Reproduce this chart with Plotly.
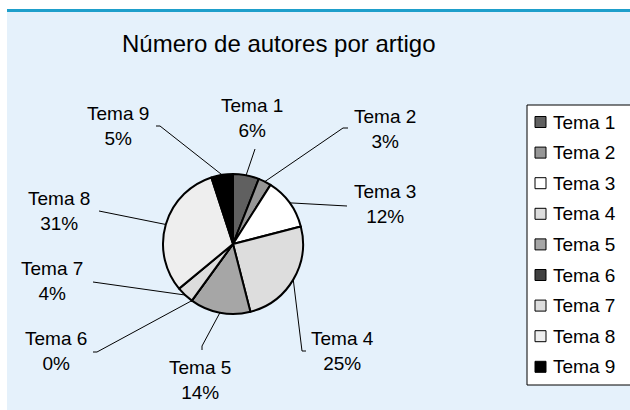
import math
import plotly.graph_objects as go

W, H = 630, 410

# ---- data ----
categories = ["Tema 1", "Tema 2", "Tema 3", "Tema 4", "Tema 5", "Tema 6", "Tema 7", "Tema 8", "Tema 9"]
values = [6, 3, 12, 25, 14, 0, 4, 31, 5]
colors = ["#606060", "#969696", "#FFFFFF", "#DDDDDD", "#A6A6A6", "#404040", "#DDDDDD", "#EEEEEE", "#000000"]
title_text = "Número de autores por artigo"

# ---- layout (pixel positions in the page) ----
cx, cy, r = 233, 244, 70
label_pos = [(252, 118), (385, 129), (385, 204), (343, 351), (200, 380),
             (56, 351), (52, 281), (59, 211), (118, 126)]
leader = [((255, 149), (255, 149)), ((343, 128), (348, 128)), ((347, 206), (347, 206)),
          ((302, 351), (306, 351)), ((202, 346), (202, 350)), ((97, 352), (93, 352)),
          ((93, 282), (93, 282)), ((99, 211), (99, 211)), ((160, 126), (156, 126))]


def px(x):
    return x / W


def py(y):
    return 1 - y / H


FONT = "Liberation Sans, Arial, sans-serif"

fig = go.Figure()
fig.add_trace(go.Pie(
    labels=categories, values=values, sort=False, direction="clockwise", rotation=0,
    marker=dict(colors=colors, line=dict(color="black", width=2)),
    textinfo="none", hoverinfo="label+percent", showlegend=False,
    domain=dict(x=[px(cx - r), px(cx + r)], y=[py(cy + r), py(cy - r)]),
))

shapes = []
shapes.append(dict(type="rect", xref="paper", yref="paper", x0=px(7), x1=1.01, y0=-0.01, y1=py(9),
                   fillcolor="#E5F1FB", line=dict(width=0), layer="below"))
shapes.append(dict(type="rect", xref="paper", yref="paper", x0=px(7), x1=1.01, y0=py(12), y1=py(9),
                   fillcolor="#1E9FCB", line=dict(width=0), layer="below"))

annotations = [dict(text=title_text, x=px(279), y=py(44), xref="paper", yref="paper",
                    xanchor="center", yanchor="middle", showarrow=False,
                    font=dict(family=FONT, size=24, color="black"))]

total = sum(values)
cum = 0
for i, (cat, v) in enumerate(zip(categories, values)):
    mid = (cum + v / 2) / total
    cum += v
    th = 2 * math.pi * mid
    ex, ey = cx + r * math.sin(th), cy - r * math.cos(th)
    (bx, by), (tx, ty) = leader[i]
    path = f"M{px(ex)},{py(ey)} L{px(bx)},{py(by)} L{px(tx)},{py(ty)}"
    shapes.append(dict(type="path", xref="paper", yref="paper", path=path,
                       line=dict(color="black", width=1), layer="above"))
    pct = round(100 * v / total)
    lx, ly = label_pos[i]
    annotations.append(dict(text=f"{cat}<br>{pct}%", x=px(lx), y=py(ly), xref="paper", yref="paper",
                            xanchor="center", yanchor="middle", showarrow=False, align="center",
                            font=dict(family=FONT, size=19, color="black")))

shapes.append(dict(type="rect", xref="paper", yref="paper", x0=px(527), x1=px(645), y0=py(385), y1=py(105),
                   fillcolor="#FFFFFF", line=dict(color="black", width=1), layer="below"))
leg_y0, leg_dy = 122, 30.6
for i, (cat, c) in enumerate(zip(categories, colors)):
    yy = leg_y0 + i * leg_dy
    shapes.append(dict(type="rect", xref="paper", yref="paper", x0=px(535), x1=px(546),
                       y0=py(yy + 5.5), y1=py(yy - 5.5), fillcolor=c,
                       line=dict(color="black", width=1), layer="above"))
    annotations.append(dict(text=cat, x=px(551), y=py(yy), xref="paper", yref="paper",
                            xanchor="left", yanchor="middle", showarrow=False,
                            font=dict(family=FONT, size=19, color="black")))

fig.update_layout(width=W, height=H, autosize=False, margin=dict(l=0, r=0, t=0, b=0),
                  paper_bgcolor="white", plot_bgcolor="white",
                  shapes=shapes, annotations=annotations, showlegend=False)
fig.write_html("out.html", config={"displayModeBar": False},
               post_script="document.body.style.margin='0';document.body.style.overflow='hidden';")
